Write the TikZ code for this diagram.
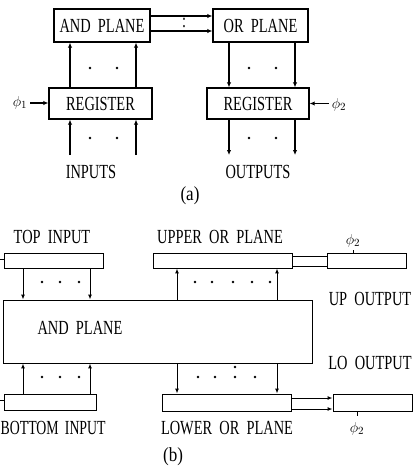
\documentclass[tikz,border=0pt]{standalone}
\usepackage{fontspec}
\setmainfont{Liberation Serif}
\usetikzlibrary{arrows.meta}
\newcommand{\lbl}[1]{\scalebox{0.72}[1]{\spaceskip=0.5em\relax #1}}
\begin{document}
\begin{tikzpicture}[x=1pt,y=-1pt,
  box/.style={draw, line width=1.4pt, inner sep=0pt, font=\fontsize{20}{20}\selectfont},
  thinbox/.style={draw, line width=0.9pt, inner sep=0pt},
  txt/.style={inner sep=0pt, font=\fontsize{20}{20}\selectfont},
  phis/.style={inner sep=0pt, font=\fontsize{15}{15}\selectfont},
  arr/.style={line width=1.4pt, -{Latex[length=5pt,width=4.5pt]}},
  tarr/.style={line width=1pt, -{Latex[length=5pt,width=4pt]}},
]
\useasboundingbox (0,0) rectangle (415,466);

% ---------------- (a) ----------------
\node[box, minimum width=96pt, minimum height=33pt] (andA) at (102,25.5) {\lbl{AND PLANE}};
\node[box, minimum width=95pt, minimum height=33pt] (orA) at (260.5,25.5) {\lbl{OR PLANE}};
\node[box, minimum width=103pt, minimum height=31pt] (regA) at (100.5,103.5) {\lbl{REGISTER}};
\node[box, minimum width=102pt, minimum height=31pt] (regB) at (258,103.5) {\lbl{REGISTER}};
\node[txt] (colon) at (184,23) {\lbl{:}};
\node[phis] (phi1) at (20,103) {$\phi_1$};
\node[phis] (phi2) at (339,105) {$\phi_2$};
\node[txt] (inputs) at (91,172) {\lbl{INPUTS}};
\node[txt] (outputs) at (258,172) {\lbl{OUTPUTS}};
\node[txt] (capa) at (190,196) {\scalebox{0.85}[1]{(a)}};

\coordinate (xa1) at (70,0);
\coordinate (xa2) at (136,0);
\coordinate (xa3) at (229,0);
\coordinate (xa4) at (295,0);
\coordinate (ya1) at (0,16);
\coordinate (ya2) at (0,31);
\coordinate (yin) at (0,155);

\draw[arr] (andA.east |- ya1) -- (orA.west |- ya1);
\draw[arr] (andA.east |- ya2) -- (orA.west |- ya2);
\draw[arr] (xa1 |- regA.north) -- (xa1 |- andA.south);
\draw[arr] (xa2 |- regA.north) -- (xa2 |- andA.south);
\draw[arr] (xa1 |- yin) -- (xa1 |- regA.south);
\draw[arr] (xa2 |- yin) -- (xa2 |- regA.south);
\draw[arr] (xa3 |- orA.south) -- (xa3 |- regB.north);
\draw[arr] (xa4 |- orA.south) -- (xa4 |- regB.north);
\draw[arr] (xa3 |- regB.south) -- (xa3 |- yin);
\draw[arr] (xa4 |- regB.south) -- (xa4 |- yin);
\draw[arr] ([xshift=3pt]phi1.east) -- (regA.west |- phi1);
\draw[arr] ([xshift=-3pt]phi2.west |- regB.east) -- (regB.east);

\foreach \x in {90,117,249,276}{
  \foreach \y in {68,138}{
    \fill (\x,\y) circle[radius=1.4pt];
  }
}

% ---------------- (b) ----------------
\node[thinbox, minimum width=99pt, minimum height=15pt] (topIn) at (53.5,260.5) {};
\node[thinbox, minimum width=309pt, minimum height=63pt] (andB) at (157.5,331.5) {};
\node[thinbox, minimum width=92pt, minimum height=16pt] (botIn) at (50,402) {};
\node[thinbox, minimum width=139pt, minimum height=15pt] (upOR) at (222.5,260.5) {};
\node[thinbox, minimum width=35pt, minimum height=10pt] (link) at (309.5,261) {};
\node[thinbox, minimum width=79pt, minimum height=15pt] (phiUp) at (366.5,260.5) {};
\node[thinbox, minimum width=129pt, minimum height=17pt] (lowOR) at (226.5,402.5) {};
\node[thinbox, minimum width=79pt, minimum height=17pt] (phiLo) at (372.5,402.5) {};

\node[txt] (tTop) at (52,237) {\lbl{TOP INPUT}};
\node[txt] (tAnd) at (80,328) {\lbl{AND PLANE}};
\node[txt, anchor=west] (tBot) at (0.5,428) {\scalebox{0.69}[1]{\spaceskip=0.45em\relax BOTTOM INPUT}};
\node[txt] (tUp) at (220,237) {\lbl{UPPER OR PLANE}};
\node[txt] (tLow) at (227,428) {\lbl{LOWER OR PLANE}};
\node[txt] (tUpO) at (370,299) {\lbl{UP OUTPUT}};
\node[txt] (tLoO) at (370,363) {\lbl{LO OUTPUT}};
\node[phis] (phi3) at (353,241) {$\phi_2$};
\node[phis] (phi4) at (357,429) {$\phi_2$};
\node[txt] (capb) at (173,457) {\scalebox{0.85}[1]{(b)}};

\coordinate (sTop) at (0,259);
\coordinate (sBot) at (0,400);
\draw[line width=0.9pt] (sTop) -- (topIn.west |- sTop);
\draw[line width=0.9pt] (sBot) -- (botIn.west |- sBot);

\coordinate (xb1) at (23,0);
\coordinate (xb2) at (90,0);
\coordinate (xb3) at (177,0);
\coordinate (xb4) at (277,0);
\coordinate (yb1) at (0,398);
\coordinate (yb2) at (0,409);
\coordinate (xt1) at (353,0);
\coordinate (xt2) at (357,0);

\draw[tarr] (xb1 |- topIn.south) -- (xb1 |- andB.north);
\draw[tarr] (xb2 |- topIn.south) -- (xb2 |- andB.north);
\draw[tarr] (xb1 |- botIn.north) -- (xb1 |- andB.south);
\draw[tarr] (xb2 |- botIn.north) -- (xb2 |- andB.south);
\draw[tarr] (xb3 |- andB.north) -- (xb3 |- upOR.south);
\draw[tarr] (xb4 |- andB.north) -- (xb4 |- upOR.south);
\draw[tarr] (xb3 |- andB.south) -- (xb3 |- lowOR.north);
\draw[tarr] (xb4 |- andB.south) -- (xb4 |- lowOR.north);
\draw[tarr] (lowOR.east |- yb1) -- (phiLo.west |- yb1);
\draw[tarr] (lowOR.east |- yb2) -- (phiLo.west |- yb2);
\draw[line width=0.9pt] (xt1 |- phiUp.north) -- ++(0,-3);
\draw[line width=0.9pt] (xt2 |- phiLo.south) -- ++(0,5);

\foreach \x in {42,60,79}{
  \fill (\x,282) circle[radius=1.3pt];
  \fill (\x,377) circle[radius=1.3pt];
}
\foreach \x in {195,212,233,252,270}{
  \fill (\x,282) circle[radius=1.3pt];
}
\foreach \x in {198,215,235,255}{
  \fill (\x,377) circle[radius=1.3pt];
}
\fill (235,367) circle[radius=1.3pt];
\end{tikzpicture}
\end{document}
